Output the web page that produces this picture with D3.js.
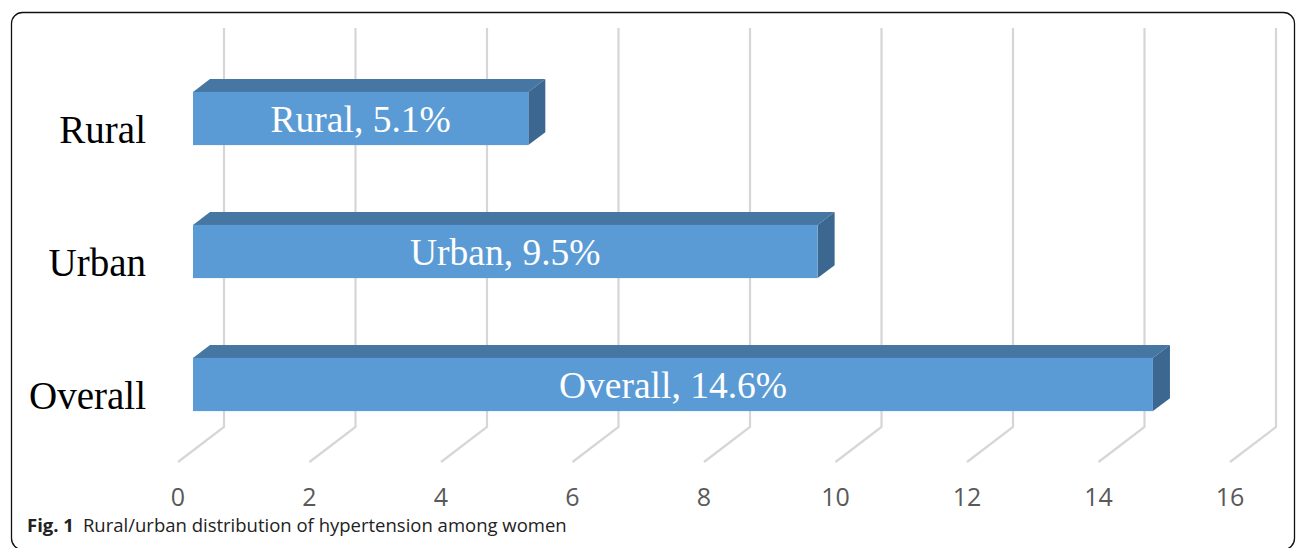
<!DOCTYPE html>
<html>
<head>
<meta charset="utf-8">
<script src="https://cdn.jsdelivr.net/npm/d3@7.9.0/dist/d3.min.js"></script>
<style>
  html, body { margin: 0; padding: 0; background: #fff; }
  svg { display: block; }
</style>
</head>
<body>
<svg id="chart" width="1296" height="548"></svg>
<script>
// data
const categories = ["Rural", "Urban", "Overall"];
const values = [5.1, 9.5, 14.6];
const barLabels = ["Rural, 5.1%", "Urban, 9.5%", "Overall, 14.6%"];
const xTicks = [0, 2, 4, 6, 8, 10, 12, 14, 16];
const caption = "Rural/urban distribution of hypertension among women";

const svg = d3.select("#chart");

// frame (bottom edge falls just below the picture)
svg.append("rect")
    .attr("x", 11.5).attr("y", 12.5)
    .attr("width", 1283).attr("height", 537)
    .attr("rx", 11).attr("ry", 11)
    .attr("fill", "none")
    .attr("stroke", "#111")
    .attr("stroke-width", 1.3);

// front plane scale, depth moves points up/right
let x = d3.scaleLinear().domain([0, 16]).range([178, 1230]);
const depthX = 46, depthY = -35;
const floorY = 462, wallTop = 28;
const proj = (v, d) => x(v) + d * depthX;

// bars sit between these depths
const dFront = 15 / 46, dBack = 32 / 46;

let y = d3.scaleBand().domain(categories)
    .range([52, 451]).paddingInner(0.6).paddingOuter(0.3);

let grid = svg.append("g")
    .attr("stroke", "#d6d6d6")
    .attr("stroke-width", 2.2)
    .attr("fill", "none");

// back wall verticals + floor diagonals
grid.selectAll("path")
    .data(xTicks)
    .enter().append("path")
    .attr("d", d => `M${proj(d, 1)},${wallTop} L${proj(d, 1)},${floorY + depthY} L${proj(d, 0)},${floorY}`);

// bars
let bars = svg.append("g").selectAll("g")
    .data(categories)
    .enter().append("g");

bars.each(function(c, i) {
    const g = d3.select(this);
    const x0 = proj(0, dFront), x1 = proj(values[i], dFront);
    const y0 = y(c), h = y.bandwidth();
    const ox = (dBack - dFront) * depthX, oy = (dBack - dFront) * depthY;

    // top face
    g.append("path")
      .attr("d", `M${x0},${y0} L${x0 + ox},${y0 + oy} L${x1 + ox},${y0 + oy} L${x1},${y0} Z`)
      .attr("fill", "#4677a3");
    // side face
    g.append("path")
      .attr("d", `M${x1},${y0} L${x1 + ox},${y0 + oy} L${x1 + ox},${y0 + oy + h} L${x1},${y0 + h} Z`)
      .attr("fill", "#3b6790");
    // front face
    g.append("rect")
      .attr("x", x0).attr("y", y0)
      .attr("width", x1 - x0).attr("height", h)
      .attr("fill", "#5b9bd5");

    g.append("text")
      .attr("x", (x0 + x1) / 2)
      .attr("y", y0 + h / 2 + 13)
      .attr("text-anchor", "middle")
      .attr("font-family", "'Liberation Serif', 'Times New Roman', serif")
      .attr("font-size", "37.5px")
      .attr("fill", "#fff")
      .text(barLabels[i]);
});

// category labels
svg.append("g").selectAll("text")
    .data(categories)
    .enter().append("text")
    .attr("x", 146)
    .attr("y", d => y(d) + y.bandwidth() / 2 + 24.5)
    .attr("text-anchor", "end")
    .attr("font-family", "'Liberation Serif', 'Times New Roman', serif")
    .attr("font-size", "39px")
    .attr("fill", "#000")
    .text(d => d);

// x tick labels
svg.append("g").selectAll("text")
    .data(xTicks)
    .enter().append("text")
    .attr("x", d => x(d))
    .attr("y", 506)
    .attr("text-anchor", "middle")
    .attr("font-family", "'Open Sans', 'Noto Sans', sans-serif")
    .attr("font-size", "25px")
    .attr("fill", "#595959")
    .text(d => d);

// caption
let cap = svg.append("text")
    .attr("x", 27)
    .attr("y", 532)
    .attr("font-family", "'Open Sans', 'Noto Sans', sans-serif")
    .attr("font-size", "18.5px")
    .attr("fill", "#222");
cap.append("tspan").attr("font-weight", "bold").text("Fig. 1");
cap.append("tspan").attr("dx", 9).text(caption);
</script>
</body>
</html>
